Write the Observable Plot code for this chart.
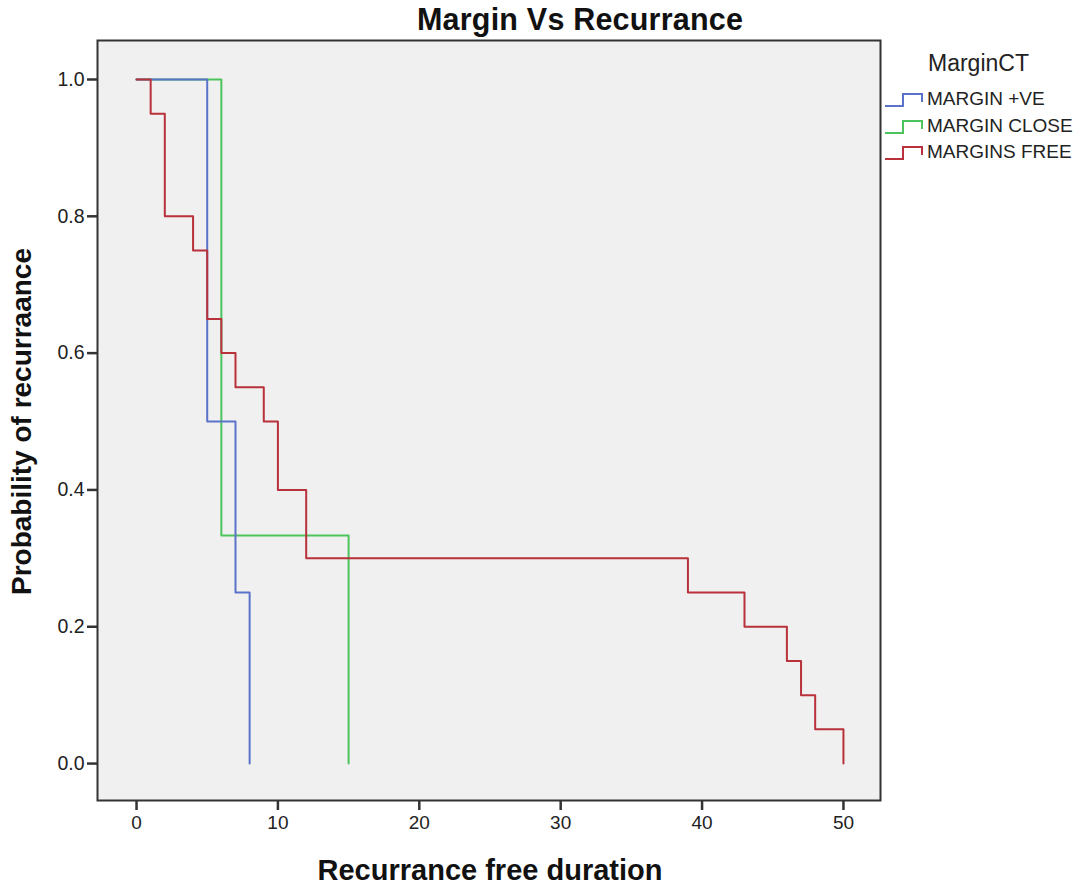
<!DOCTYPE html>
<html>
<head>
<meta charset="utf-8">
<script src="https://cdn.jsdelivr.net/npm/d3@7"></script>
<script src="https://cdn.jsdelivr.net/npm/@observablehq/plot@0.6"></script>
<style>
  html, body { margin: 0; padding: 0; background: #fff; }
  body { font-family: "Liberation Sans", Arial, sans-serif; }
  #wrap { position: relative; width: 1081px; height: 888px; }
  #title { position: absolute; left: 97px; width: 968px; top: 2px; text-align: left; font-weight: bold; font-size: 30.5px; color: #111; padding-left: 320px; box-sizing: border-box; letter-spacing: 0.2px; }
  #legend { position: absolute; left: 884px; top: 50px; font-size: 19px; color: #222; }
  #legend .ttl { font-size: 23px; margin-left: 44px; margin-bottom: 9px; }
  #legend .row { display: flex; align-items: center; height: 26.5px; }
  #legend svg { margin-right: 3px; }
</style>
</head>
<body>
<div id="wrap">
  <div id="chart"></div>
  <div id="title">Margin Vs Recurrance</div>
  <div id="legend"></div>
</div>
<script>
const groups = ["MARGIN +VE", "MARGIN CLOSE", "MARGINS FREE"];
const colors = ["#5b72c9", "#4cc35b", "#b8313b"];

const timeVE = [0, 5, 7, 8];
const survVE = [1.0, 0.5, 0.25, 0.0];

const timeClose = [0, 6, 15];
const survClose = [1.0, 0.3333, 0.0];

const timeFree = [0, 1, 2, 4, 5, 6, 7, 9, 10, 12, 39, 43, 46, 47, 48, 50];
const survFree = [1.0, 0.95, 0.80, 0.75, 0.65, 0.60, 0.55, 0.50, 0.40, 0.30, 0.25, 0.20, 0.15, 0.10, 0.05, 0.0];

const xTicks = [0, 10, 20, 30, 40, 50];
const yTicks = [0.0, 0.2, 0.4, 0.6, 0.8, 1.0];

function rows(times, survs, g) { return times.map((t, i) => ({time: t, surv: survs[i], group: g})); }
const data = [
  ...rows(timeClose, survClose, groups[1]),
  ...rows(timeVE, survVE, groups[0]),
  ...rows(timeFree, survFree, groups[2])
];

const chart = Plot.plot({
  width: 1081,
  height: 888,
  marginLeft: 97,
  marginRight: 201,
  marginTop: 40,
  marginBottom: 88,
  style: { fontFamily: "'Liberation Sans', Arial, sans-serif", fontSize: "19px", color: "#222", background: "#fff" },
  x: { domain: [-2.76, 52.62], ticks: xTicks, tickSize: 10, tickPadding: 4, label: null },
  y: { domain: [-0.054, 1.057], ticks: yTicks, tickFormat: d3.format(".1f"), tickSize: 10, tickPadding: 3, label: null },
  color: { domain: groups, range: colors },
  marks: [
    Plot.rect([0], { x1: -2.76, x2: 52.62, y1: -0.054, y2: 1.057, fill: "#f0f0f0" }),
    Plot.line(data, { x: "time", y: "surv", z: "group", stroke: "group", curve: "step-after", strokeWidth: 2 }),
    Plot.frame({ stroke: "#333", strokeWidth: 2 }),
    Plot.axisX({ ticks: xTicks, tickSize: 10, tickPadding: 5, strokeWidth: 2.5, stroke: "#333", fontSize: 19, label: null }),
    Plot.axisY({ ticks: yTicks, tickFormat: d3.format(".1f"), tickSize: 10, tickPadding: 3, strokeWidth: 2.5, stroke: "#333", fontSize: 19.5, label: null }),
    Plot.text(["Recurrance free duration"], { frameAnchor: "bottom", dy: 79, x: 25, fontSize: 29, fontWeight: "bold", fill: "#111" }),
    Plot.text(["Probability of recurraance"], { frameAnchor: "left", dx: -75, y: 0.5, textAnchor: "middle", rotate: -90, fontSize: 28, fontWeight: "bold", fill: "#111" })
  ]
});
document.getElementById("chart").appendChild(chart);

const leg = document.getElementById("legend");
leg.innerHTML = '<div class="ttl">MarginCT</div>' + groups.map((g, i) =>
  `<div class="row"><svg width="40" height="20"><path d="M1,17 H19 V5 H38 V13" fill="none" stroke="${colors[i]}" stroke-width="2"/></svg><span>${g}</span></div>`
).join("");
</script>
</body>
</html>
